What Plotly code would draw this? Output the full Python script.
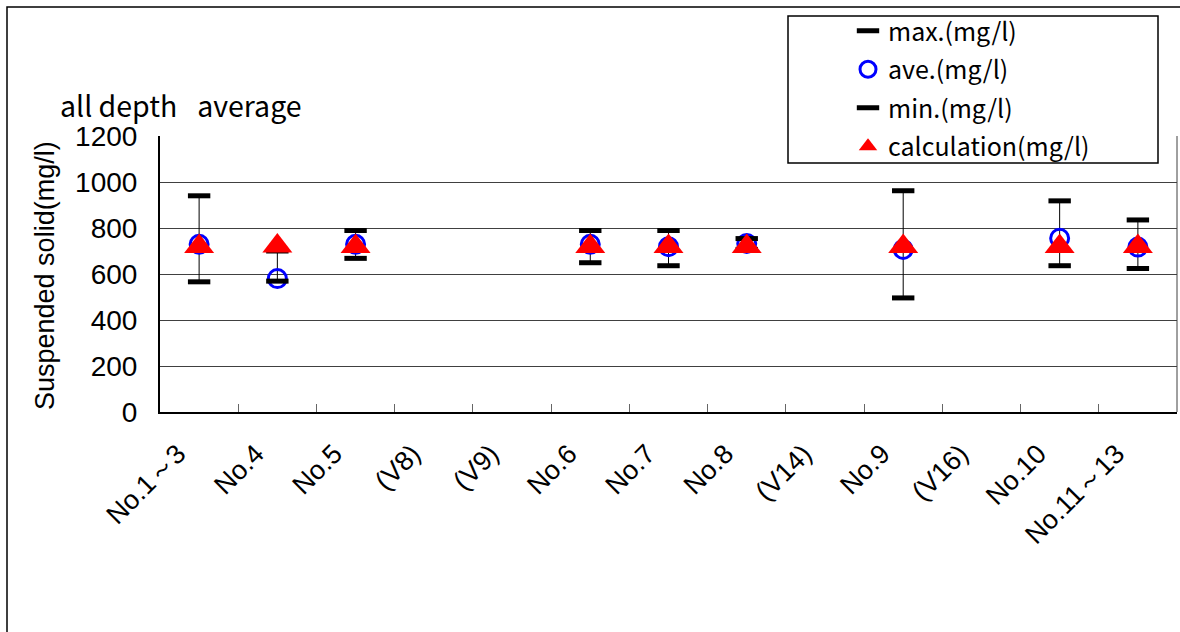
import plotly.graph_objects as go

categories = ["No.1～3", "No.4", "No.5", "(V8)", "(V9)", "No.6", "No.7", "No.8",
              "(V14)", "No.9", "(V16)", "No.10", "No.11～13"]
max_vals = [940, 700, 789, None, None, 789, 789, 754, None, 962, None, 918, 835]
ave_vals = [729, 580, 729, None, None, 729, 719, 733, None, 707, None, 755, 717]
min_vals = [566, 569, 668, None, None, 649, 636, 707, None, 496, None, 636, 624]
calc_vals = [720, 722, 720, None, None, 720, 720, 720, None, 720, None, 720, 720]
y_ticks = [0, 200, 400, 600, 800, 1000, 1200]

W, H = 1180, 632
L, R, T, B = 160, 1177, 136, 412  # plot area in px


def px_x(p):
    return (p - L) / (R - L)


def px_y(p):
    return (B - p) / (B - T)


ARIAL = "Liberation Sans, Arial, sans-serif"
GOTHIC = "Noto Sans CJK JP, sans-serif"

# high-low lines built from data
hl_x, hl_y = [], []
for c, lo, hi in zip(categories, min_vals, max_vals):
    if lo is not None and hi is not None:
        hl_x += [c, c, None]
        hl_y += [lo, hi, None]

fig = go.Figure()
fig.add_trace(go.Scatter(x=hl_x, y=hl_y, mode="lines", line=dict(color="black", width=1),
                         showlegend=False, hoverinfo="skip"))
fig.add_trace(go.Scatter(x=categories, y=ave_vals, mode="markers", name="ave.(mg/l)",
                         legendgroup="b", legendrank=2,
                         marker=dict(symbol="circle-open", size=18, color="#0000ff",
                                     line=dict(width=3, color="#0000ff"))))
fig.add_trace(go.Scatter(x=categories, y=max_vals, mode="markers", name="max.(mg/l)",
                         legendgroup="a", legendrank=1,
                         marker=dict(symbol="line-ew", size=16, color="black",
                                     line=dict(width=5, color="black"))))
fig.add_trace(go.Scatter(x=categories, y=min_vals, mode="markers", name="min.(mg/l)",
                         legendgroup="c", legendrank=3,
                         marker=dict(symbol="line-ew", size=16, color="black",
                                     line=dict(width=5, color="black"))))
fig.add_trace(go.Scatter(x=categories, y=calc_vals, mode="markers", name="calculation(mg/l)",
                         legendgroup="d", legendrank=4,
                         marker=dict(symbol="triangle-up", size=26, color="#ff0000",
                                     line=dict(width=0))))

shapes = [
    # outer chart border (cropped)
    dict(type="rect", xref="paper", yref="paper", x0=px_x(7), x1=px_x(1400),
         y0=px_y(7), y1=px_y(900), line=dict(color="black", width=1.5), layer="below"),
    # right plot border
    dict(type="line", xref="paper", yref="paper", x0=1, x1=1, y0=0, y1=1,
         line=dict(color="#404040", width=1)),
    # legend box
    dict(type="rect", xref="paper", yref="paper", x0=px_x(788), x1=px_x(1158),
         y0=px_y(163), y1=px_y(16), line=dict(color="black", width=1.5),
         fillcolor="white", layer="above"),
]

annotations = [
    dict(text="all depth<span style='font-size:20px'>　</span>average", xref="paper",
         yref="paper", x=px_x(58), y=px_y(105),
         xanchor="left", yanchor="middle", showarrow=False,
         font=dict(family=GOTHIC, size=28.5, color="black")),
    dict(text="Suspended solid(mg/l)", xref="paper", yref="paper", x=px_x(45), y=px_y(276),
         xanchor="center", yanchor="middle", textangle=-90, showarrow=False,
         font=dict(family=ARIAL, size=27, color="black")),
]

fig.update_layout(
    width=W, height=H,
    margin=dict(l=L, r=W - R, t=T, b=H - B, pad=0),
    paper_bgcolor="white", plot_bgcolor="white",
    showlegend=True,
    legend=dict(x=px_x(848), y=px_y(8), xanchor="left", yanchor="top",
                bgcolor="rgba(0,0,0,0)", borderwidth=0, traceorder="grouped",
                tracegroupgap=3, font=dict(family=GOTHIC, size=25, color="black")),
    shapes=shapes,
    annotations=annotations,
)

pad = "\u00a0" * 4
fig.update_xaxes(type="category", categoryorder="array", categoryarray=categories,
                 range=[-0.5, len(categories) - 0.5],
                 tickmode="array", tickvals=categories,
                 ticktext=[c + pad for c in categories],
                 tickson="boundaries", ticks="inside", ticklen=8, tickcolor="#666",
                 tickwidth=1, showgrid=False, showline=True, linecolor="black",
                 linewidth=2, tickangle=-45, ticklabelstandoff=-8,
                 tickfont=dict(family=ARIAL, size=27, color="black"))
fig.update_yaxes(range=[0, 1200], tickvals=y_ticks, ticktext=[str(v) for v in y_ticks],
                 showgrid=True, gridcolor="#404040", gridwidth=1,
                 showline=True, linecolor="black", linewidth=2, ticks="",
                 ticklabelstandoff=15, zeroline=False,
                 tickfont=dict(family=ARIAL, size=28, color="black"))

fig.write_html("out.html", config={"displayModeBar": False},
               post_script="document.body.style.margin='0';")
